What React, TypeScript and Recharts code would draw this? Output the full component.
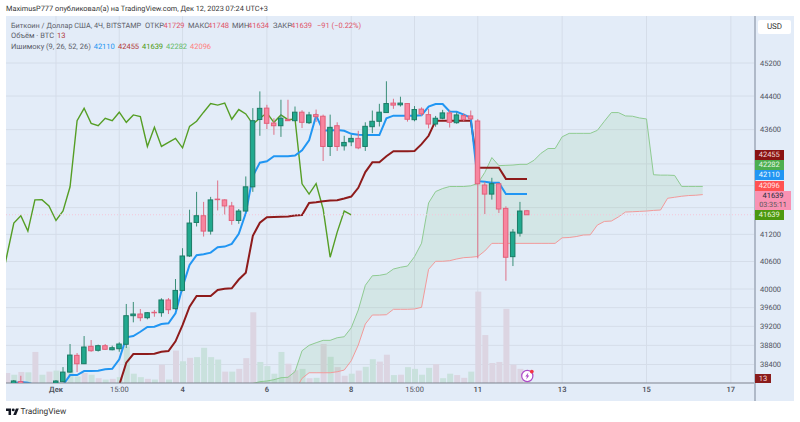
import React from "react";
import {
  ComposedChart, XAxis, YAxis, CartesianGrid, Bar, Line, Area, ReferenceLine,
} from "recharts";

const FONT = "Roboto, sans-serif";

// Prices and volumes. Index = 4h candle number.
const candleStart = 2;
const opens = [38010,38045,null,null,null,null,38018,38045,38243,38591,38416,38780,38696,38793,38708,38729,38822,39427,39463,39384,39500,39491,39764,39577,39970,40721,41466,41617,41273,41993,41975,41838,41511,41723,42273,43840,44111,43757,43693,43836,43812,44014,43764,43956,43918,43206,43693,43220,43314,43395,43206,43670,43798,44005,44231,44190,44220,43836,44087,43956,43733,43870,43997,43764,43932,43925,43805,42314,42107,42342,41783,40706,41227,41729];
const highs = [38080,38167,null,null,null,null,38080,38347,38828,38639,38996,38912,38815,38828,38793,38864,39678,39721,39570,39506,39549,39801,39806,40217,40893,41753,42158,41930,42044,42418,41990,41930,41769,42511,44111,44512,44190,43870,44311,44311,44149,44060,44022,44077,43956,43956,43774,43456,43479,43573,43774,44053,44214,44756,44335,44384,44230,44160,44130,44094,43925,44070,44070,44010,43990,44053,43853,42385,42480,42360,41829,41318,41930,41748];
const lows = [37990,37990,null,null,null,null,38000,38040,38230,38243,38410,38666,38670,38702,38696,38666,38744,39286,39310,39350,39405,39405,39463,39555,39950,40700,41376,41151,41196,41737,41646,41414,41436,41723,42158,43456,43614,43479,43430,43812,43812,43638,43733,43781,42867,42984,43102,43110,43213,43142,43102,43518,43675,44005,44094,44149,43790,43798,43925,43630,43670,43846,43650,43740,43800,43830,40670,41655,41982,41680,40180,40500,41151,41634];
const closes = [38060,38000,null,null,null,null,38059,38243,38597,38416,38765,38687,38793,38717,38750,38828,39427,39463,39384,39491,39491,39764,39555,39970,40721,41453,41617,41273,41975,41980,41838,41511,41723,42273,43812,44106,43750,43693,43870,43812,44014,43774,43949,43908,43206,43655,43206,43300,43395,43173,43679,43798,44014,44220,44183,44231,43846,44077,43973,43733,43870,43997,43774,43949,43836,43853,42342,42107,42345,41769,40693,41250,41723,41639];

const tenkanStart = 2;
const tenkan = [38015,38039,38024,37977,37950,37950,37950,37977,38181,38181,38264,38264,38270,38300,38312,38507,38968,38996,39086,39186,39192,39250,39265,39478,40043,40523,40737,40760,40795,40915,40928,40988,41212,41677,42518,42829,42860,42977,42977,42977,42994,43118,43347,43932,43583,43583,43590,43573,43502,43479,43472,43472,43472,43870,43932,43932,43932,43932,43942,44149,44207,44207,44029,44022,43956,43884,42402,42388,42365,42365,42110,42110,42110,42110];

const kijunStart = 17;
const kijun = [37977,38437,38618,38618,38618,38624,38666,38681,38885,39228,39620,39850,39850,39850,39978,40006,40015,40206,40354,41167,41460,41583,41588,41595,41602,41624,41633,41906,41920,41943,41959,41966,42005,42051,42250,42611,42836,42836,42977,43095,43095,43095,43102,43260,43456,43812,43812,43812,43812,43812,43812,42714,42714,42714,42714,42455,42455,42455,42455];

const chikouStart = 0;
const chikou = [39970,40721,41453,41617,41273,41975,41980,41838,41511,41723,42273,43812,44106,43750,43693,43870,43812,44014,43774,43949,43908,43206,43655,43206,43300,43395,43173,43679,43798,44014,44220,44183,44231,43846,44077,43973,43733,43870,43997,43774,43949,43836,43853,42342,42107,42345,41769,40693,41250,41723,41639];

const senkouStart = 36;
const senkouA = [38008,38045,38059,38086,38127,38136,38252,38687,38800,38855,38905,38905,38960,38981,39171,39549,40080,40288,40297,40326,40435,40473,40500,40706,41004,41906,42165,42234,42280,42280,42280,42296,42349,42604,42947,42760,42767,42774,42790,42790,42884,43048,43158,43158,43432,43513,43513,43513,43513,43583,43798,44005,44005,43925,43918,43877,43853,42550,42541,42541,42534,42282,42282,42282,42282];
const senkouB = [37800,37800,37800,37800,37800,37800,37860,38113,38229,38229,38229,38229,38250,38285,38478,38807,39250,39442,39442,39448,39564,39564,39564,39570,39607,40428,40604,40604,40618,40655,40684,40693,40710,40832,41000,41000,41000,41000,41000,41000,41000,41000,41000,41000,41123,41130,41151,41185,41190,41407,41489,41498,41590,41700,41707,41715,41723,41737,41746,42012,42035,42058,42074,42081,42096];

const volumeStart = 1;
const volumes = [29,24,32,31,90,24,33,36,29,38,19,29,24,14,10,12,17,106,27,17,12,10,53,10,94,63,73,75,102,75,68,33,33,41,72,205,61,49,27,90,56,37,41,14,15,113,76,46,21,27,36,47,69,62,82,23,24,46,41,24,44,55,14,27,23,15,33,265,139,58,61,215,53,41,13];
const volumeDirection = "dududududuu".concat("dududu", "uuududududuuuududdd", "uuuuddudududdudu", "uddud", "uuuuduuddudd").split("");

const priceTicks = [45200,44400,43600,42800,42300,41800,41200,40600,40000,39600,39200,38800,38400];
const coveredPriceTicks = [42800,42300,41800];
const timeTicks = [8,17,26,38,50,59,68,80,92,104];
const timeLabels = ["Дек","15:00","4","6","8","15:00","11","13","15","17"];
const boldTimeLabels = ["Дек","4","6","8","11","13","15","17"];

const LAST_ROW = 100;
const data = Array.from({ length: LAST_ROW + 1 }, (_, i) => ({
  i,
  o: opens[i - candleStart] ?? null,
  h: highs[i - candleStart] ?? null,
  l: lows[i - candleStart] ?? null,
  c: closes[i - candleStart] ?? null,
  tenkan: tenkan[i - tenkanStart] ?? null,
  kijun: kijun[i - kijunStart] ?? null,
  chikou: chikou[i - chikouStart] ?? null,
  a: senkouA[i - senkouStart] ?? null,
  b: senkouB[i - senkouStart] ?? null,
  v: volumes[i - volumeStart] ?? null,
  vd: volumeDirection[i - volumeStart] ?? null,
}));

const wickKey = (r: any) => (r.h == null ? null : [r.l, r.h]);
const bodyKey = (r: any) => (r.o == null ? null : [Math.min(r.o, r.c), Math.max(r.o, r.c)]);
const cloudKey = (r: any) => (r.a == null ? null : [r.b, r.a]);

const X_DOMAIN: [number, number] = [0.888, 107.29];
const Y_DOMAIN: [number, number] = [38018, 46364];

const WickShape = (p: any) => {
  const r = p.payload;
  if (!r || r.h == null || !Number.isFinite(p.y)) return null;
  return <rect x={p.x} y={p.y} width={p.width} height={p.height} fill={r.c >= r.o ? "#3B8F78" : "#DE7288"} />;
};
const BodyShape = (p: any) => {
  const r = p.payload;
  if (!r || r.o == null || !Number.isFinite(p.y)) return null;
  const up = r.c >= r.o;
  return (
    <rect x={p.x} y={p.y} width={p.width} height={Math.max(p.height, 0.5)}
      fill={up ? "#21A98E" : "#F8859F"} stroke={up ? "#1B7B66" : "#E2607A"} strokeWidth={1} />
  );
};
const VolumeShape = (p: any) => {
  const r = p.payload;
  if (!r || r.v == null || !Number.isFinite(p.y)) return null;
  return <rect x={p.x} y={p.y} width={p.width} height={p.height} fill={r.vd === "u" ? "#C9E1DD" : "#DCD5E2"} />;
};
const TimeTick = (p: any) => {
  const label = timeLabels[timeTicks.indexOf(p.payload.value)];
  return (
    <text x={p.x} y={p.y} dy={6} textAnchor="middle" fontFamily={FONT} fontSize={7.5}
      fontWeight={boldTimeLabels.includes(label) ? 600 : 400} fill="#50535E">{label}</text>
  );
};

const abs = (left: number, top: number, extra: React.CSSProperties = {}): React.CSSProperties => ({
  position: "absolute", left, top, whiteSpace: "nowrap", lineHeight: "10px", ...extra,
});

const priceTags = [
  { label: "42455", top: 149.5, bg: "#8A1313", fg: "#F0D8D8" },
  { label: "42282", top: 160, bg: "#4CAF50", fg: "#E4F4E4" },
  { label: "42110", top: 170.3, bg: "#2196F3", fg: "#F0F8FF" },
  { label: "42096", top: 180.6, bg: "#FF5252", fg: "#FFE4E4" },
  { label: "41639", top: 209.8, bg: "#4C990F", fg: "#E8F4DC" },
];

const legendA = [
  { t: "Биткоин / Доллар США, 4Ч, BITSTAMP", x: 11, c: "#5B5E69" },
  { t: "ОТКР", x: 145, c: "#5B5E69" }, { t: "41729", x: 163.5, c: "#E0556A" },
  { t: "МАКС", x: 188, c: "#5B5E69" }, { t: "41748", x: 208, c: "#E0556A" },
  { t: "МИН", x: 232, c: "#5B5E69" }, { t: "41634", x: 248, c: "#E0556A" },
  { t: "ЗАКР", x: 273, c: "#5B5E69" }, { t: "41639", x: 291, c: "#E0556A" },
  { t: "−91 (−0.22%)", x: 317, c: "#E0556A" },
];
const legendC = [
  { t: "Ишимоку (9, 26, 52, 26)", x: 11, c: "#5B5E69" },
  { t: "42110", x: 93.7, c: "#2196F3" },
  { t: "42455", x: 118, c: "#B23A3A" },
  { t: "41639", x: 142, c: "#4C990F" },
  { t: "42282", x: 166, c: "#66BB6A" },
  { t: "42096", x: 190, c: "#FF7F7F" },
];
const LEGEND_SIZE = 7.5;

export default function App() {
  return (
    <div style={{ position: "absolute", left: 0, top: 0, width: 800, height: 422, background: "#fff", overflow: "hidden", fontFamily: FONT, fontSize: 8, textRendering: "geometricPrecision" }}>
      <div style={{ position: "absolute", left: 6, top: 16, width: 788, height: 385, background: "#E3ECF8" }} />
      <div style={{ position: "absolute", left: 0, top: 0 }}>
        <ComposedChart width={800} height={422} data={data} margin={{ top: 16, right: 6, bottom: 21, left: 6 }}>
          <CartesianGrid xAxisId="x" yAxisId="p" stroke="#D5DDE9" strokeWidth={1}
            horizontalValues={priceTicks} verticalValues={timeTicks} />
          <XAxis xAxisId="x" dataKey="i" type="number" domain={X_DOMAIN} allowDataOverflow ticks={timeTicks}
            interval={0} tick={<TimeTick />} tickLine={false} tickSize={0} tickMargin={3} height={18}
            axisLine={{ stroke: "#7F838F", strokeWidth: 1 }} />
          <XAxis xAxisId="w" orientation="top" height={0} dataKey="i" type="number" domain={X_DOMAIN} allowDataOverflow hide />
          <XAxis xAxisId="b" orientation="top" height={0} dataKey="i" type="number" domain={X_DOMAIN} allowDataOverflow hide />
          <XAxis xAxisId="v" orientation="top" height={0} dataKey="i" type="number" domain={X_DOMAIN} allowDataOverflow hide />
          <YAxis yAxisId="p" orientation="right" scale="log" domain={Y_DOMAIN} allowDataOverflow width={40}
            ticks={priceTicks} interval={0} tickLine={false} tickSize={0} tickMargin={6} axisLine={false}
            tickFormatter={(v: number) => (coveredPriceTicks.includes(v) ? "" : String(v))}
            tick={{ fontSize: 7.5, fill: "#50535E", fontFamily: FONT }} />
          <YAxis yAxisId="v" hide domain={[0, 1064]} allowDataOverflow />

          <Bar xAxisId="v" yAxisId="v" dataKey="v" barSize={6} shape={VolumeShape} isAnimationActive={false} zIndex={50} />
          <ReferenceLine xAxisId="x" yAxisId="p" y={41639} stroke="#F4C6D8" strokeDasharray="1 2" />
          <Area xAxisId="x" yAxisId="p" dataKey={cloudKey} stroke="none" fill="#4CAF50" fillOpacity={0.1}
            connectNulls={false} dot={false} activeDot={false} isAnimationActive={false} zIndex={60} />
          <Line xAxisId="x" yAxisId="p" dataKey="a" stroke="#8FCB92" strokeWidth={1} dot={false} activeDot={false} isAnimationActive={false} zIndex={70} />
          <Line xAxisId="x" yAxisId="p" dataKey="b" stroke="#F29A9A" strokeWidth={1} dot={false} activeDot={false} isAnimationActive={false} zIndex={70} />
          <Line xAxisId="x" yAxisId="p" dataKey="chikou" stroke="#559E25" strokeWidth={1.4} dot={false} activeDot={false} isAnimationActive={false} zIndex={80} />
          <Line xAxisId="x" yAxisId="p" dataKey="kijun" stroke="#8E1B1B" strokeWidth={2} dot={false} activeDot={false} isAnimationActive={false} zIndex={90} />
          <Line xAxisId="x" yAxisId="p" dataKey="tenkan" stroke="#2196F3" strokeWidth={2} dot={false} activeDot={false} isAnimationActive={false} zIndex={90} />
          <Bar xAxisId="w" yAxisId="p" dataKey={wickKey} barSize={1} shape={WickShape} isAnimationActive={false} zIndex={500} />
          <Bar xAxisId="b" yAxisId="p" dataKey={bodyKey} barSize={4.5} shape={BodyShape} isAnimationActive={false} zIndex={501} />
        </ComposedChart>
      </div>

      <div style={{ position: "absolute", left: 754, top: 16, width: 2, height: 385, background: "#AFB9C8" }} />

      <div style={abs(6, 4, { fontSize: 7.35, color: "#333" })}>MaximusP777 опубликовал(а) на TradingView.com, Дек 12, 2023 07:24 UTC+3</div>
      {legendA.map((s) => <span key={s.x} style={abs(s.x, 21, { color: s.c, fontSize: s.x === 11 ? 7.3 : LEGEND_SIZE })}>{s.t}</span>)}
      <span style={abs(11, 31, { color: "#5B5E69", fontSize: LEGEND_SIZE })}>Объём · BTC</span>
      <span style={abs(57, 31, { color: "#B23A3A", fontSize: LEGEND_SIZE })}>13</span>
      {legendC.map((s) => <span key={s.x} style={abs(s.x, 42, { color: s.c, fontSize: LEGEND_SIZE })}>{s.t}</span>)}

      <div style={abs(758, 20, { width: 33, height: 14, background: "#fff", borderRadius: 2, textAlign: "center", lineHeight: "14px", fontSize: 8, color: "#333" })}>USD</div>

      {priceTags.map((t) => (
        <div key={t.top} style={abs(755, t.top, { width: 28.5, height: 10.2, background: t.bg, color: t.fg, textAlign: "center", fontSize: 7.5 })}>{t.label}</div>
      ))}
      <div style={{ position: "absolute", left: 755, top: 191, width: 36, height: 18.8, background: "#F992B3", textAlign: "center", fontSize: 7.5, lineHeight: "9px", color: "#2A2E39" }}>
        41639<br /><span style={{ color: "#555", fontSize: 7.2 }}>03:35:11</span>
      </div>
      <div style={abs(755, 373.7, { width: 16, height: 9.6, background: "#8A1C1C", color: "#F6DEDE", textAlign: "center", fontSize: 7.5 })}>13</div>

      <svg style={{ position: "absolute", left: 519, top: 368 }} width={18} height={16} viewBox="0 0 18 16">
        <circle cx={8.3} cy={8} r={5.6} fill="#fff" stroke="#AE4CC9" strokeWidth={1.2} />
        <path d="M9.4 4.6 L6.3 8.6 H8 L7.2 11.4 L10.3 7.4 H8.6 Z" fill="#AE4CC9" />
        <circle cx={12.8} cy={3.6} r={1.9} fill="#F23645" />
      </svg>

      <svg style={{ position: "absolute", left: 6, top: 406.6 }} width={13} height={10.1} viewBox="0 0 36 28">
        <path d="M14 22H7V11H0V4h14v18zM28 22h-8l7.5-18h8L28 22z" fill="#131722" />
        <circle cx={20} cy={8} r={4} fill="#131722" />
      </svg>
      <div style={abs(20.5, 407, { fontSize: 8.3, color: "#333" })}>TradingView</div>
    </div>
  );
}
